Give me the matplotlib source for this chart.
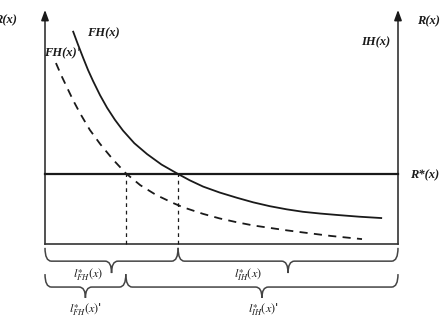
import matplotlib
matplotlib.use("Agg")
import matplotlib.pyplot as plt
from matplotlib.path import Path
from matplotlib.patches import PathPatch

plt.rcParams['mathtext.fontset'] = 'stix'

# ---- data ----
fh_x = [0.79, 0.93, 1.08, 1.22, 1.36, 1.56, 1.76, 1.98, 2.21, 2.53, 2.89, 3.30, 3.77,
        4.10, 4.48, 4.95, 5.44, 5.90, 6.37, 6.85, 7.31, 7.80, 8.27, 8.90, 9.55]
fh_y = [6.09, 5.71, 5.32, 4.97, 4.66, 4.25, 3.89, 3.55, 3.24, 2.88, 2.57, 2.27, 2.00,
        1.82, 1.64, 1.47, 1.32, 1.19, 1.08, 0.99, 0.92, 0.87, 0.83, 0.78, 0.74]

fhp_x = [0.31, 0.46, 0.62, 0.80, 0.99, 1.27, 1.56, 1.92, 2.29, 2.70, 3.15, 3.63, 3.91,
         4.48, 4.95, 5.44, 5.90, 6.37, 6.85, 7.31, 8.10, 8.98]
fhp_y = [5.17, 4.82, 4.48, 4.10, 3.74, 3.26, 2.86, 2.42, 2.02, 1.68, 1.40, 1.17, 1.05,
         0.86, 0.73, 0.62, 0.53, 0.46, 0.39, 0.33, 0.23, 0.14]

r_star = 2.0
x_left, x_right = 0.0, 10.0
y_bottom, y_top = 0.0, 6.69
cross_fh = 3.77    # FH(x) meets R*
cross_fhp = 2.29   # FH(x)' meets R*

row1_spans = [(x_left, cross_fh), (cross_fh, x_right)]
row2_spans = [(x_left, cross_fhp), (cross_fhp, x_right)]
row1_labels = [r'$\mathit{l}^{\ast}_{\mathit{FH}}(x)$', r'$\mathit{l}^{\ast}_{\mathit{IH}}(x)$']
row2_labels = [r"$\mathit{l}^{\ast}_{\mathit{FH}}(x)$'", r"$\mathit{l}^{\ast}_{\mathit{IH}}(x)$'"]
row1_label_x = [1.22, 5.75]
row2_label_x = [1.16, 6.18]

# ---- figure ----
fig = plt.figure(figsize=(4.42, 3.28), dpi=100)
ax = fig.add_axes([0, 0, 1, 1])
ax.set_xlim(-45 / 35.3, 397 / 35.3)
ax.set_ylim(-84 / 35.0, 244 / 35.0)
ax.axis('off')

ink = '#1a1a1a'
axc = '#333333'

# axes
ax.plot([x_left, x_left], [y_bottom, y_top - 0.15], color=axc, lw=1.2)
ax.plot([x_right, x_right], [y_bottom, y_top - 0.15], color=axc, lw=1.2)
ax.plot([x_left, x_right], [y_bottom, y_bottom], color=axc, lw=1.2)
for xa in (x_left, x_right):
    ax.annotate('', xy=(xa, y_top), xytext=(xa, y_top - 0.3),
                arrowprops=dict(arrowstyle='-|>,head_length=0.6,head_width=0.22',
                                color=ink, lw=1.2, shrinkA=0, shrinkB=0))

# R* line
ax.plot([x_left, x_right], [r_star, r_star], color=ink, lw=1.6)

# curves
ax.plot(fh_x, fh_y, color=ink, lw=1.3, solid_capstyle='butt', solid_joinstyle='round')
ax.plot(fhp_x, fhp_y, color=ink, lw=1.3, ls=(0, (4.5, 3.5)))

# dashed verticals
for xv in (cross_fhp, cross_fh):
    ax.plot([xv, xv], [y_bottom, r_star], color=ink, lw=0.9, ls=(0, (3, 3)))


def brace(x0, x1, ytop, yline, ytip, color='#444444'):
    xm = (x0 + x1) / 2
    d = 0.18
    verts = [(x0, ytop), (x0, yline), (x0 + d, yline),
             (xm - d, yline),
             (xm, yline), (xm, ytip),
             (xm, yline), (xm + d, yline),
             (x1 - d, yline),
             (x1, yline), (x1, ytop)]
    codes = [Path.MOVETO, Path.CURVE3, Path.CURVE3,
             Path.LINETO,
             Path.CURVE3, Path.CURVE3,
             Path.CURVE3, Path.CURVE3,
             Path.LINETO,
             Path.CURVE3, Path.CURVE3]
    ax.add_patch(PathPatch(Path(verts, codes), fill=False, edgecolor=color, lw=1.1))


for (a, b) in row1_spans:
    brace(a, b, -0.11, -0.49, -0.83)
for (a, b) in row2_spans:
    brace(a, b, -0.86, -1.23, -1.54)

for lx, lab in zip(row1_label_x, row1_labels):
    ax.text(lx, -0.86, lab, ha='center', va='center', fontsize=8.8, color=ink)
for lx, lab in zip(row2_label_x, row2_labels):
    ax.text(lx, -1.85, lab, ha='center', va='center', fontsize=8.8, color=ink)

tfont = dict(family='Liberation Serif', weight='bold', style='italic', fontsize=9, color=ink)
ax.text(-0.79, (244 - 20) / 35, 'R(x)', ha='right', va='center', **tfont)
ax.text((417 - 45) / 35.3, (244 - 21) / 35, 'R(x)', ha='left', va='center', **tfont)
ax.text((361 - 45) / 35.3, (244 - 42) / 35, 'IH(x)', ha='left', va='center', **tfont)
ax.text((87 - 45) / 35.3, (244 - 33) / 35, 'FH(x)', ha='left', va='center', **tfont)
ax.text((44 - 45) / 35.3, (244 - 53) / 35, "FH(x)'", ha='left', va='center', **tfont)
ax.text((410 - 45) / 35.3, (244 - 175) / 35, 'R*(x)', ha='left', va='center', **tfont)

fig.savefig('out.png', dpi=100)
